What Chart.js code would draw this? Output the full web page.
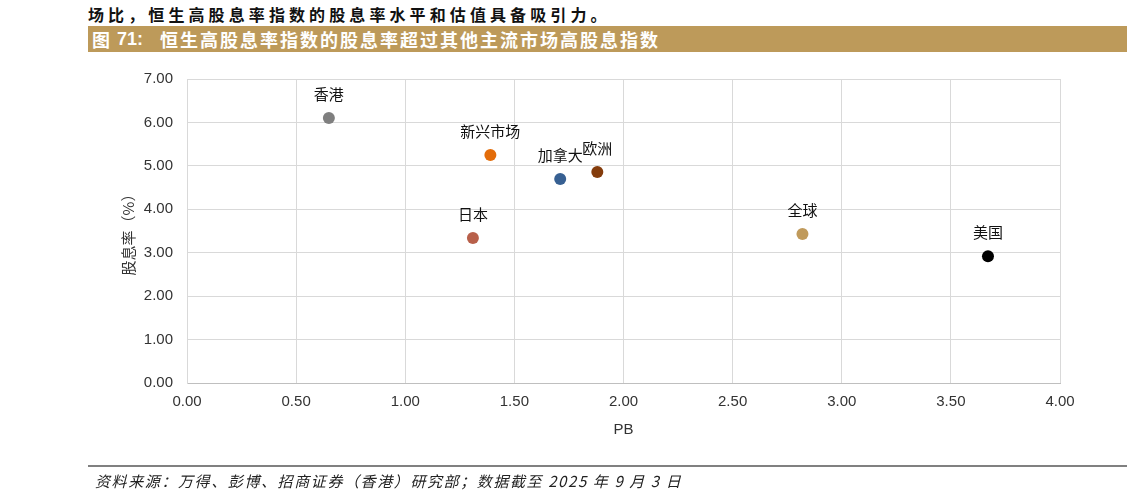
<!DOCTYPE html>
<html lang="zh">
<head>
<meta charset="utf-8">
<title>图 71</title>
<script src="https://cdn.jsdelivr.net/npm/chart.js@4.4.1/dist/chart.umd.min.js"></script>
<style>
  html, body { margin: 0; padding: 0; background: #fff; }
  .page { position: relative; width: 1132px; height: 494px; overflow: hidden; }
  .lead {
    position: absolute; left: 88px; top: 2px;
    font: bold 16px "Noto Sans CJK SC", sans-serif; letter-spacing: 4.1px; color: #111;
  }
  .banner {
    position: absolute; left: 88px; top: 26px; width: 1039px; height: 26px;
    background: #bd9a5a; color: #fff;
  }
  .banner span { position: absolute; top: 0px; line-height: 26px; white-space: pre; }
  .b-fig { left: 4px; font: bold 18px "Noto Sans CJK SC", sans-serif; }
  .b-num { left: 29px; font: bold 18px "Liberation Sans", Arial, sans-serif; }
  .b-txt { left: 72px; font: bold 18px "Noto Sans CJK SC", sans-serif; letter-spacing: 2px; }
  .rule { position: absolute; left: 88px; top: 465px; width: 1039px; height: 2px; background: #808080; }
  .source {
    position: absolute; left: 95px; top: 470px; white-space: pre;
    font: italic 15px "Noto Sans CJK SC", sans-serif; color: #222; letter-spacing: 1.6px;
  }
  .chart-box { position: absolute; left: 0; top: 0; width: 1132px; height: 494px; }
</style>
</head>
<body>
<div class="page">
  <div class="lead">场比，恒生高股息率指数的股息率水平和估值具备吸引力。</div>
  <div class="banner"><span class="b-fig">图</span><span class="b-num">71:</span><span class="b-txt">恒生高股息率指数的股息率超过其他主流市场高股息指数</span></div>
  <div class="chart-box"><canvas id="scatter"></canvas></div>
  <div class="rule"></div>
  <div class="source">资料来源：万得、彭博、招商证券（香港）研究部；数据截至 2025 年 9 月 3 日</div>
</div>
<script>
const markets = ["香港", "新兴市场", "加拿大", "欧洲", "日本", "全球", "美国"];
const pbValues = [0.65, 1.39, 1.71, 1.88, 1.31, 2.82, 3.67];
const yieldValues = [6.10, 5.25, 4.70, 4.86, 3.34, 3.43, 2.92];
const pointColors = ["#7f7f7f", "#e36c09", "#376092", "#843c0c", "#b8604a", "#c09a5b", "#000000"];

const X_MIN = 0, X_MAX = 4, X_STEP = 0.5;
const Y_MIN = 0, Y_MAX = 7, Y_STEP = 1;

// point labels sit above each dot
const pointLabels = {
  id: "pointLabels",
  afterDatasetsDraw(chart) {
    const ctx = chart.ctx;
    const meta = chart.getDatasetMeta(0);
    ctx.save();
    ctx.font = '15px "Noto Sans CJK SC", sans-serif';
    ctx.fillStyle = "#111";
    ctx.textAlign = "center";
    ctx.textBaseline = "middle";
    meta.data.forEach(function (el, i) {
      ctx.fillText(markets[i], el.x, el.y - 24);
    });
    ctx.restore();
  }
};

const tickFont = { family: '"Liberation Sans", Arial, sans-serif', size: 15 };

new Chart(document.getElementById("scatter"), {
  type: "scatter",
  data: {
    datasets: [{
      data: pbValues.map((x, i) => ({ x: x, y: yieldValues[i] })),
      pointBackgroundColor: pointColors,
      pointBorderWidth: 0,
      pointRadius: 6,
      pointHoverRadius: 6
    }]
  },
  options: {
    responsive: true,
    maintainAspectRatio: false,
    animation: false,
    events: [],
    layout: { padding: { left: 115, right: 72, top: 79, bottom: 51 } },
    plugins: { legend: { display: false }, tooltip: { enabled: false } },
    scales: {
      x: {
        type: "linear",
        min: X_MIN, max: X_MAX,
        ticks: {
          stepSize: X_STEP, color: "#333", font: tickFont, padding: 10,
          callback: (v) => v.toFixed(2)
        },
        grid: { color: "#d9d9d9", lineWidth: 1, drawTicks: false },
        border: { color: "#bfbfbf" },
        title: { display: true, text: "PB", color: "#333", font: tickFont, padding: { top: 6 } },
        afterFit(scale) { scale.height = 60; }
      },
      y: {
        type: "linear",
        min: Y_MIN, max: Y_MAX,
        ticks: {
          stepSize: Y_STEP, color: "#333", font: tickFont, padding: 14,
          callback: (v) => v.toFixed(2)
        },
        grid: { color: "#d9d9d9", lineWidth: 1, drawTicks: false },
        border: { color: "#d9d9d9" },
        title: {
          display: true, text: "股息率（%）", color: "#333",
          font: { family: '"Noto Sans CJK SC", sans-serif', size: 15 }, padding: { bottom: 2 }
        },
        afterFit(scale) { scale.width = 72; }
      }
    }
  },
  plugins: [pointLabels]
});
</script>
</body>
</html>
